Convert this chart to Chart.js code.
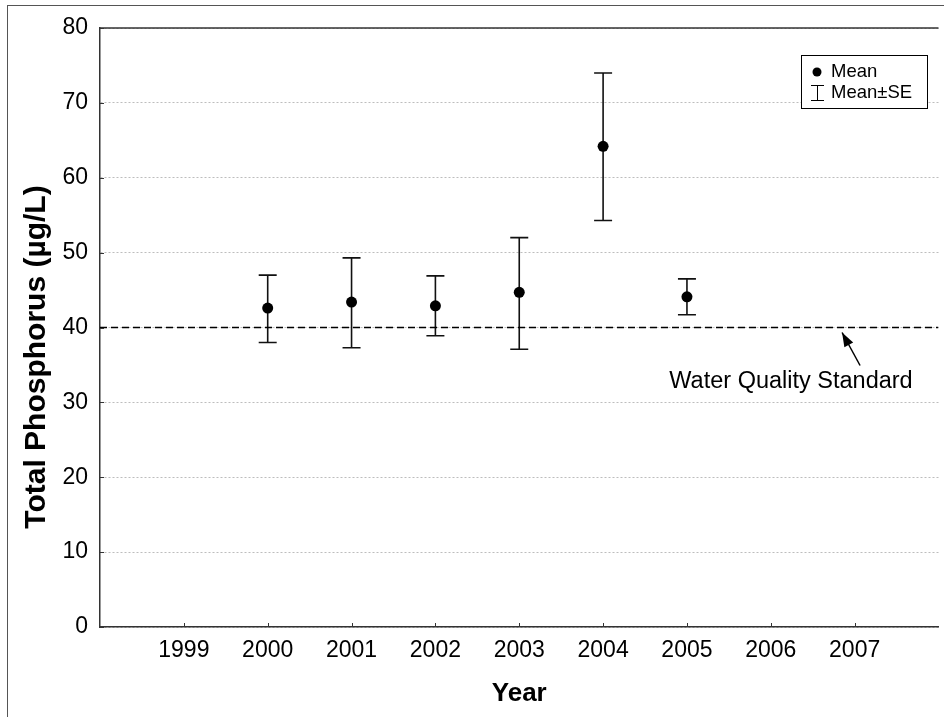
<!DOCTYPE html>
<html>
<head>
<meta charset="utf-8">
<title>Total Phosphorus</title>
<script src="https://cdn.jsdelivr.net/npm/chart.js@4.4.1/dist/chart.umd.min.js"></script>
<style>
  body { margin: 0; background: #fff; }
  canvas { display: block; }
</style>
</head>
<body>
<canvas id="graficoFosforo" width="944" height="717"></canvas>
<script>
const anos = [2000, 2001, 2002, 2003, 2004, 2005];
const media = [42.6, 43.4, 42.9, 44.7, 64.2, 44.1];
const mediaMaisSE = [47.0, 49.3, 46.9, 52.0, 74.0, 46.5];
const mediaMenosSE = [38.0, 37.3, 38.9, 37.1, 54.3, 41.7];
const rotulosX = [1999, 2000, 2001, 2002, 2003, 2004, 2005, 2006, 2007];
const rotulosY = [0, 10, 20, 30, 40, 50, 60, 70, 80];
const padrao = 40;

const fonte = 'Liberation Sans, Arial, sans-serif';
Chart.defaults.font.family = fonte;
Chart.defaults.color = '#000';

const graficoFosforo = document.getElementById('graficoFosforo');

// moldura externa e linha de cima da area do grafico
const moldura = {
  id: 'moldura',
  beforeDraw(chart) {
    const ctx = chart.ctx;
    ctx.save();
    ctx.fillStyle = '#fff';
    ctx.fillRect(0, 0, chart.width, chart.height);
    ctx.strokeStyle = '#555';
    ctx.lineWidth = 1;
    ctx.strokeRect(7.5, 5.5, 2000, 2000);
    ctx.restore();
  },
  afterDraw(chart) {
    const {ctx, chartArea, scales: {x, y}} = chart;
    ctx.save();
    ctx.strokeStyle = '#333';
    ctx.lineWidth = 1.5;
    ctx.beginPath();
    ctx.moveTo(chartArea.left, chartArea.top);
    ctx.lineTo(chartArea.right, chartArea.top);
    ctx.stroke();
    // ticks para dentro
    ctx.lineWidth = 1;
    ctx.beginPath();
    x.ticks.forEach(t => {
      const px = Math.round(x.getPixelForValue(t.value)) + 0.5;
      ctx.moveTo(px, chartArea.bottom);
      ctx.lineTo(px, chartArea.bottom - 4);
    });
    y.ticks.forEach(t => {
      const py = Math.round(y.getPixelForValue(t.value)) + 0.5;
      ctx.moveTo(chartArea.left, py);
      ctx.lineTo(chartArea.left + 4, py);
    });
    ctx.stroke();
    // titulo do eixo y
    ctx.fillStyle = '#000';
    ctx.font = 'bold 30px ' + fonte;
    ctx.textAlign = 'center';
    ctx.textBaseline = 'middle';
    ctx.translate(37, 357);
    ctx.rotate(-Math.PI / 2);
    ctx.fillText('Total Phosphorus (\u00b5g/L)', 0, 0);
    ctx.restore();
  }
};

const barrasErro = {
  id: 'barrasErro',
  beforeDatasetsDraw(chart) {
    const {ctx, scales: {x, y}} = chart;
    ctx.save();
    ctx.strokeStyle = '#111';
    ctx.lineWidth = 1.6;
    anos.forEach((ano, i) => {
      const px = x.getPixelForValue(ano);
      const cima = y.getPixelForValue(mediaMaisSE[i]);
      const baixo = y.getPixelForValue(mediaMenosSE[i]);
      ctx.beginPath();
      ctx.moveTo(px, cima); ctx.lineTo(px, baixo);
      ctx.moveTo(px - 9, cima); ctx.lineTo(px + 9, cima);
      ctx.moveTo(px - 9, baixo); ctx.lineTo(px + 9, baixo);
      ctx.stroke();
    });
    ctx.restore();
  }
};

const legendaENota = {
  id: 'legendaENota',
  afterDraw(chart) {
    const {ctx, scales: {x, y}} = chart;
    ctx.save();
    // legenda
    ctx.fillStyle = '#fff';
    ctx.fillRect(801, 55, 126, 53);
    ctx.strokeStyle = '#000';
    ctx.lineWidth = 1;
    ctx.strokeRect(801.5, 55.5, 126, 53);
    ctx.fillStyle = '#000';
    ctx.beginPath();
    ctx.arc(817, 72, 4.5, 0, Math.PI * 2);
    ctx.fill();
    ctx.beginPath();
    ctx.moveTo(817.5, 85); ctx.lineTo(817.5, 101);
    ctx.moveTo(811, 85.5); ctx.lineTo(824, 85.5);
    ctx.moveTo(811, 100.5); ctx.lineTo(824, 100.5);
    ctx.stroke();
    ctx.font = '18.5px ' + fonte;
    ctx.textBaseline = 'middle';
    ctx.textAlign = 'left';
    ctx.fillText('Mean', 831, 72);
    ctx.fillText('Mean\u00b1SE', 831, 93);

    // seta e texto do padrao
    const pontaX = x.getPixelForValue(2006.85);
    const pontaY = y.getPixelForValue(padrao) + 5;
    const caudaX = pontaX + 18, caudaY = pontaY + 33;
    const ang = Math.atan2(pontaY - caudaY, pontaX - caudaX);
    ctx.lineWidth = 1.5;
    ctx.beginPath();
    ctx.moveTo(caudaX, caudaY);
    ctx.lineTo(pontaX, pontaY);
    ctx.stroke();
    ctx.beginPath();
    ctx.moveTo(pontaX, pontaY);
    ctx.lineTo(pontaX - 14 * Math.cos(ang) + 5 * Math.sin(ang), pontaY - 14 * Math.sin(ang) - 5 * Math.cos(ang));
    ctx.lineTo(pontaX - 14 * Math.cos(ang) - 5 * Math.sin(ang), pontaY - 14 * Math.sin(ang) + 5 * Math.cos(ang));
    ctx.closePath();
    ctx.fill();
    ctx.font = '23.5px ' + fonte;
    ctx.textAlign = 'center';
    ctx.fillText('Water Quality Standard', 791, 382);
    ctx.restore();
  }
};

new Chart(graficoFosforo, {
  type: 'scatter',
  data: {
    datasets: [{
      label: 'Mean',
      data: anos.map((ano, i) => ({x: ano, y: media[i]})),
      pointRadius: 5.5,
      pointHoverRadius: 5.5,
      backgroundColor: '#000',
      borderColor: '#000',
      borderWidth: 0
    },
    {
      label: 'Water Quality Standard',
      data: [{x: 1998, y: padrao}, {x: 2008, y: padrao}],
      showLine: true,
      pointRadius: 0,
      borderColor: '#000',
      borderWidth: 1.5,
      borderDash: [7, 4]
    }]
  },
  options: {
    responsive: false,
    animation: false,
    devicePixelRatio: 1,
    layout: {
      padding: {top: 28, right: 2, left: 0, bottom: 0}
    },
    plugins: {
      legend: {display: false},
      tooltip: {enabled: false}
    },
    scales: {
      x: {
        type: 'linear',
        min: 1998,
        max: 2008,
        afterBuildTicks: scale => { scale.ticks = rotulosX.map(v => ({value: v})); },
        afterFit: scale => { scale.height = 90; },
        grid: {display: false, drawTicks: false},
        border: {display: true, color: '#333', width: 1.5},
        ticks: {
          font: {size: 23},
          padding: 10,
          maxRotation: 0,
          autoSkip: false,
          callback: v => String(v)
        },
        title: {
          display: true,
          text: 'Year',
          font: {size: 26, weight: 'bold'},
          padding: {top: 0, bottom: 8}
        }
      },
      y: {
        min: 0,
        max: 80,
        afterBuildTicks: scale => { scale.ticks = rotulosY.map(v => ({value: v})); },
        afterFit: scale => { scale.width = 100; },
        grid: {color: '#bdbdbd', lineWidth: 1, drawTicks: false},
        border: {display: true, color: '#333', width: 1.5, dash: [2, 2]},
        ticks: {
          font: {size: 23},
          padding: 12,
          callback: v => String(v)
        }
      }
    }
  },
  plugins: [moldura, barrasErro, legendaENota]
});
</script>
</body>
</html>
